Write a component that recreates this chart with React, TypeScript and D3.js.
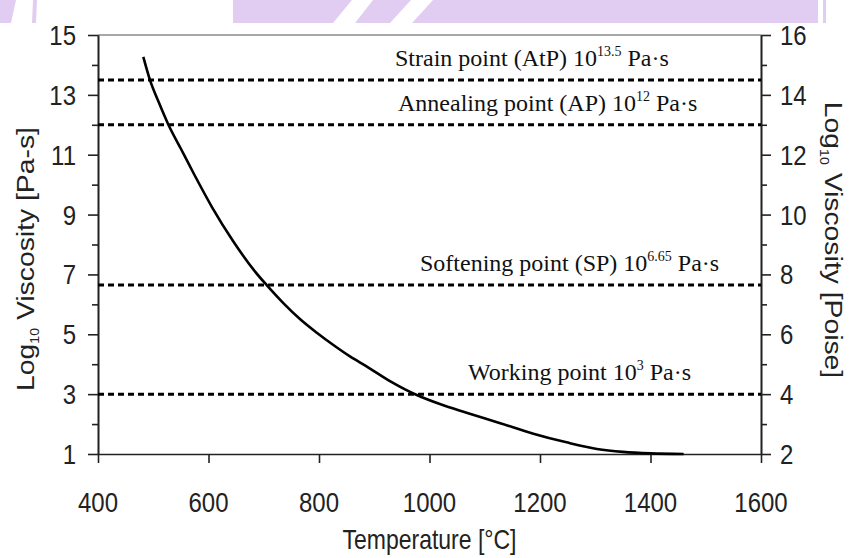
import React, { useEffect, useRef } from 'react';
import * as d3 from 'd3';

// curve: temperature (°C) vs log10 viscosity (Pa·s)
const temperature = [482, 494, 510, 527, 550, 573, 606, 645, 684, 705, 735, 766, 796, 826, 856, 886, 930, 977, 1020, 1067, 1128, 1188, 1248, 1303, 1350, 1400, 1460];
const viscosity = [14.27, 13.5, 12.75, 12.02, 11.2, 10.38, 9.26, 8.1, 7.1, 6.65, 6.05, 5.5, 5.05, 4.64, 4.26, 3.93, 3.42, 2.97, 2.66, 2.38, 2.03, 1.68, 1.39, 1.17, 1.07, 1.02, 1.0];

const pointValues = [13.5, 12, 6.65, 3];
const pointNames = ['Strain point (AtP) 10', 'Annealing point (AP) 10', 'Softening point (SP) 10', 'Working point 10'];
const pointExponents = ['13.5', '12', '6.65', '3'];

const xTicks = [400, 600, 800, 1000, 1200, 1400, 1600];
const leftTicks = [1, 3, 5, 7, 9, 11, 13, 15];
const leftMinor = [2, 4, 6, 8, 10, 12, 14];
const rightTicks = [2, 4, 6, 8, 10, 12, 14, 16];
const rightMinor = [3, 5, 7, 9, 11, 13, 15];

export default function App() {
  const ref = useRef<SVGSVGElement>(null);

  useEffect(() => {
    const svg = d3.select(ref.current);
    svg.selectAll('*').remove();

    const left = 98, right = 761, top = 35, bottom = 454;
    const sans = 'Liberation Sans, Arial, sans-serif';
    const serif = 'Liberation Serif, Times New Roman, serif';
    const stretch = 1.18; // the original picture is taller than it is wide

    const x = d3.scaleLinear().domain([400, 1600]).range([left, right]);
    const yL = d3.scaleLinear().domain([1, 15]).range([bottom, top]);
    const yR = d3.scaleLinear().domain([2, 16]).range([bottom, top]);

    svg.append('rect').attr('width', 849).attr('height', 558).attr('fill', '#fff');

    // watermark strip at the top
    const wm = [
      [[0, 0], [16, 0], [11, 23], [0, 23]],
      [[33, 0], [37, 0], [36, 23], [32, 23]],
      [[233, 0], [352, 0], [333, 23], [233, 23]],
      [[373, 0], [411, 0], [390, 23], [355, 23]],
      [[433, 0], [818, 0], [818, 23], [412, 23]],
      [[823, 0], [826, 0], [826, 23], [823, 23]],
    ];
    svg.selectAll('polygon.wm').data(wm).enter().append('polygon')
      .attr('class', 'wm')
      .attr('points', d => d.map(p => p.join(',')).join(' '))
      .attr('fill', '#e1cdf1');

    // top frame line
    svg.append('line')
      .attr('x1', left).attr('x2', right).attr('y1', top).attr('y2', top)
      .attr('stroke', '#8a8a8a').attr('stroke-width', 1.5);

    const axisStyle = (g: any) => {
      g.select('.domain').attr('stroke', '#222').attr('stroke-width', 1.6);
      g.selectAll('.tick line').attr('stroke', '#222').attr('stroke-width', 1.6);
    };

    svg.append('g').attr('transform', `translate(${left},0)`)
      .call(d3.axisLeft(yL).tickValues(leftMinor).tickSize(6).tickSizeOuter(0).tickFormat(() => ''))
      .call(axisStyle);
    svg.append('g').attr('transform', `translate(${left},0)`)
      .call(d3.axisLeft(yL).tickValues(leftTicks).tickSize(10).tickSizeOuter(0).tickFormat(() => ''))
      .call(axisStyle);
    svg.append('g').attr('transform', `translate(${right},0)`)
      .call(d3.axisRight(yR).tickValues(rightMinor).tickSize(6).tickSizeOuter(0).tickFormat(() => ''))
      .call(axisStyle);
    svg.append('g').attr('transform', `translate(${right},0)`)
      .call(d3.axisRight(yR).tickValues(rightTicks).tickSize(10).tickSizeOuter(0).tickFormat(() => ''))
      .call(axisStyle);
    svg.append('g').attr('transform', `translate(0,${bottom})`)
      .call(d3.axisBottom(x).tickValues(xTicks).tickSize(9).tickSizeOuter(0).tickFormat(() => ''))
      .call(axisStyle);

    // tick labels (vertically stretched like the source)
    svg.selectAll('text.yl').data(leftTicks).enter().append('text')
      .attr('class', 'yl')
      .attr('transform', d => `translate(76,${yL(d) + 10}) scale(1,${stretch})`)
      .attr('text-anchor', 'end')
      .style('font-family', sans).style('font-size', '24px').attr('fill', '#222')
      .text(d => d);
    svg.selectAll('text.yr').data(rightTicks).enter().append('text')
      .attr('class', 'yr')
      .attr('transform', d => `translate(780,${yR(d) + 10}) scale(1,${stretch})`)
      .style('font-family', sans).style('font-size', '24px').attr('fill', '#222')
      .text(d => d);
    svg.selectAll('text.xl').data(xTicks).enter().append('text')
      .attr('class', 'xl')
      .attr('transform', d => `translate(${x(d)},512) scale(1,${stretch})`)
      .attr('text-anchor', 'middle')
      .style('font-family', sans).style('font-size', '24px').attr('fill', '#222')
      .text(d => d);

    // axis titles
    svg.append('text')
      .attr('transform', `translate(${(left + right) / 2},549) scale(1,${stretch})`)
      .attr('text-anchor', 'middle')
      .style('font-family', sans).style('font-size', '23px').attr('fill', '#222')
      .text('Temperature [°C]');

    const yTitle = (tx: number, ty: number, rot: number, unit: string) => {
      const t = svg.append('text')
        .attr('transform', `translate(${tx},${ty}) scale(1,${stretch}) rotate(${rot})`)
        .attr('text-anchor', 'middle')
        .style('font-family', sans).style('font-size', '24px').attr('fill', '#222');
      t.append('tspan').text('Log');
      t.append('tspan').attr('dy', 5).style('font-size', '12px').text('10');
      t.append('tspan').attr('dy', -5).text(` Viscosity  ${unit}`);
    };
    yTitle(34, 259, -90, '[Pa-s]');
    yTitle(825, 240, 90, '[Poise]');

    // characteristic viscosity points
    svg.selectAll('line.pt').data(pointValues).enter().append('line')
      .attr('class', 'pt')
      .attr('x1', left).attr('x2', right)
      .attr('y1', d => yL(d)).attr('y2', d => yL(d))
      .attr('stroke', '#000').attr('stroke-width', 3).attr('stroke-dasharray', '6,4');

    const labelStart = [395, 398, 420, 468];
    pointValues.forEach((v, i) => {
      const t = svg.append('text')
        .attr('x', labelStart[i]).attr('y', yL(v) - 14)
        .style('font-family', serif).style('font-size', '24px').attr('fill', '#111');
      t.append('tspan').text(pointNames[i]);
      t.append('tspan').attr('dy', -10).style('font-size', '14px').text(pointExponents[i]);
      t.append('tspan').attr('dy', 10).text(' Pa·s');
    });

    // viscosity curve
    const line = d3.line<number>()
      .x((d, i) => x(temperature[i]))
      .y(d => yL(d))
      .curve(d3.curveMonotoneX);
    svg.append('path')
      .datum(viscosity)
      .attr('d', line)
      .attr('fill', 'none')
      .attr('stroke', '#000')
      .attr('stroke-width', 2.6);
  }, []);

  return (
    <svg ref={ref} width={849} height={558} style={{ position: 'absolute', left: 0, top: 0 }} />
  );
}
